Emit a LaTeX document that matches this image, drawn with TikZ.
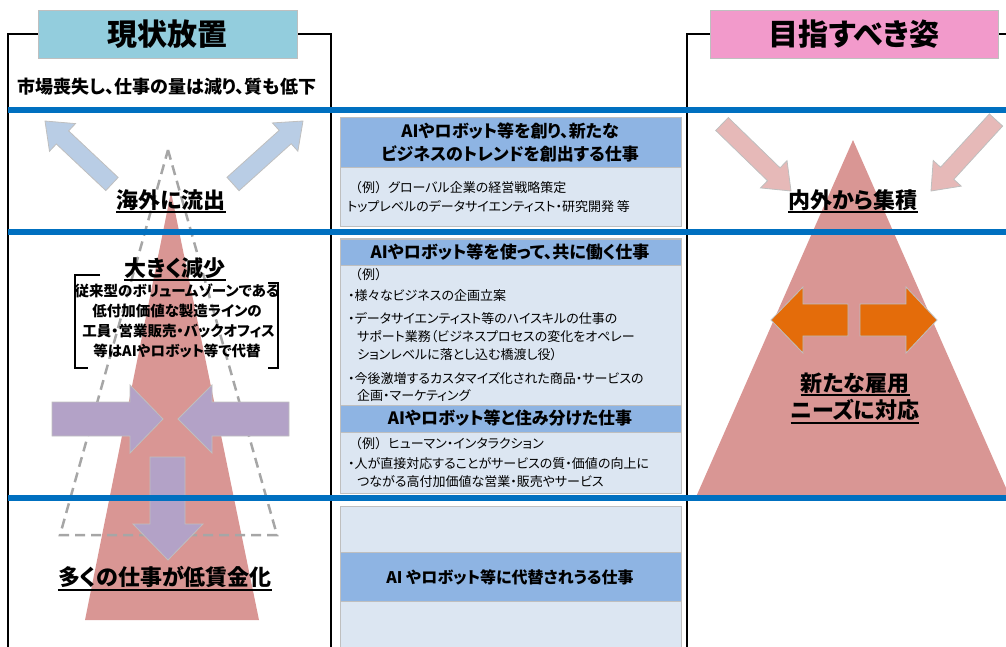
\documentclass[tikz,border=0pt]{standalone}
\usepackage{fontspec}
\setmainfont{Noto Sans CJK JP}[RawFeature=+palt]
\newfontfamily\jpfull{Noto Sans CJK JP}
\usetikzlibrary{calc}
\definecolor{lineblue}{HTML}{0070C0}
\definecolor{titleblue}{HTML}{93CDDD}
\definecolor{titlepink}{HTML}{F29ACB}
\definecolor{hdrblue}{HTML}{8EB4E3}
\definecolor{bodyblue}{HTML}{DCE6F2}
\definecolor{tri}{HTML}{D99694}
\definecolor{purp}{HTML}{B3A2C7}
\definecolor{lblue}{HTML}{B9CDE5}
\definecolor{lpink}{HTML}{E6B9B8}
\definecolor{orng}{HTML}{E46C0A}
\definecolor{bord}{HTML}{BFBFBF}
\definecolor{dashgray}{HTML}{A6A6A6}

\newcommand\fatarrow[6]{%
  \coordinate (fa-h) at ($(#3)!#6!(#2)$);
  \path[#1] ($(#2)!#4!90:(#3)$) -- ($(fa-h)!#4!90:(#3)$) -- ($(fa-h)!#5!90:(#3)$) -- (#3) -- ($(fa-h)!#5!-90:(#3)$) -- ($(fa-h)!#4!-90:(#3)$) -- ($(#2)!#4!-90:(#3)$) -- cycle;}

\newcommand\ulabel[3]{%
  \node[big] (#1) at #2 {#3};
  \draw[line width=2pt] ($(#1.base west)+(0,4)$) -- ($(#1.base east)+(0,4)$);}

\newcommand\rei{{\jpfull （例）}}

\tikzset{
  frame/.style={line width=2.5pt, black},
  bluerule/.style={line width=5.5pt, lineblue},
  titlebox/.style={draw=bord, line width=1pt, inner sep=0pt,
    minimum height=48pt, font=\bfseries\fontsize{30}{34}\selectfont},
  hdr/.style={inner sep=0pt, align=center, font=\bfseries\fontsize{17}{23}\selectfont},
  body/.style={inner sep=0pt, anchor=base west, font=\fontsize{13}{18}\selectfont},
  big/.style={inner sep=0pt, font=\bfseries\fontsize{22}{26}\selectfont},
  boxline/.style={draw=bord, line width=1pt},
  shapeline/.style={draw=bord, line width=0.8pt},
}

\begin{document}
\begin{tikzpicture}[x=1pt, y=-1pt]
\useasboundingbox (0,0) rectangle (1006,646);

% ---------- left column graphics ----------
\fill[tri] (171,192) -- (259,620) -- (85,620) -- cycle;
\draw[dashgray, line width=2.5pt, dash pattern=on 10pt off 6pt] (168,150) -- (277,535) -- (60,535) -- cycle;

\path[fill=purp, shapeline] (52,402) -- (130,402) -- (130,385) -- (163,419) -- (130,453) -- (130,436) -- (52,436) -- cycle;
\path[fill=purp, shapeline] (289,402) -- (212,402) -- (212,385) -- (178,419) -- (212,453) -- (212,436) -- (289,436) -- cycle;
\path[fill=purp, shapeline] (150,457) -- (185,457) -- (185,524) -- (203,524) -- (168,560) -- (133,524) -- (150,524) -- cycle;

\coordinate (bl1s) at (112,184);
\coordinate (bl1e) at (45,121);
\coordinate (bl2s) at (233,184);
\coordinate (bl2e) at (303,121);
\fatarrow{fill=lblue, shapeline}{bl1s}{bl1e}{9pt}{19pt}{24pt}
\fatarrow{fill=lblue, shapeline}{bl2s}{bl2e}{9pt}{19pt}{24pt}

% ---------- right column graphics ----------
\fill[tri] (853,140) -- (1010,497) -- (696,497) -- cycle;
\coordinate (pk1s) at (722,124);
\coordinate (pk1e) at (791,191);
\coordinate (pk2s) at (996,120);
\coordinate (pk2e) at (931,191);
\fatarrow{fill=lpink, shapeline}{pk1s}{pk1e}{9pt}{19pt}{24pt}
\fatarrow{fill=lpink, shapeline}{pk2s}{pk2e}{9pt}{19pt}{24pt}

\path[fill=orng, shapeline] (848,304) -- (803,304) -- (803,287) -- (771,320) -- (803,353) -- (803,336) -- (848,336) -- cycle;
\path[fill=orng, shapeline] (860,304) -- (906,304) -- (906,287) -- (937,320) -- (906,353) -- (906,336) -- (860,336) -- cycle;

% ---------- middle column boxes ----------
\path[fill=bodyblue, boxline] (340,117) rectangle (681,226);
\path[fill=hdrblue, boxline] (340,117) rectangle (681,167);
\path[fill=bodyblue, boxline] (340,238) rectangle (681,493);
\path[fill=hdrblue, boxline] (340,239) rectangle (681,265);
\path[fill=hdrblue, boxline] (340,405) rectangle (681,432);
\path[fill=bodyblue, boxline] (340,506) rectangle (681,660);
\path[fill=hdrblue, boxline] (340,552) rectangle (681,601);

% ---------- frames and titles ----------
\draw[frame] (38,34) -- (8,34) -- (8,660);
\draw[frame] (297,34) -- (331,34) -- (331,660);
\draw[frame] (710,34) -- (687,34) -- (687,660);
\draw[frame] (998,34) -- (1010,34);
\node[titlebox, fill=titleblue, minimum width=259pt] (t1) at (167.5,34) {現状放置};
\node[titlebox, fill=titlepink, minimum width=288pt] (t2) at (854,34) {目指すべき姿};

\node[inner sep=0pt, font=\bfseries\fontsize{18}{20}\selectfont] (lead) at (167,87) {市場喪失し、仕事の量は減り、質も低下};

% ---------- blue rules ----------
\draw[bluerule] (8,110) -- (1010,110);
\draw[bluerule] (8,232) -- (1010,232);
\draw[bluerule] (8,498) -- (1010,498);

% ---------- left texts ----------
\ulabel{out}{(171,200)}{海外に流出}
\ulabel{dec}{(175,268)}{大きく減少}
\node[inner sep=0pt, align=center, font=\bfseries\fontsize{14.5}{20}\selectfont] (repl) at (177,321)
  {従来型のボリュームゾーンである\\低付加価値な製造ラインの\\\ 工員・営業販売・バックオフィス\\等はAIやロボット等で代替};
\draw[line width=1.6pt] (100,275) -- (75,275) -- (75,368) -- (88,368);
\draw[line width=1.6pt] (268,283) -- (278,283) -- (278,368) -- (268,368);
\ulabel{low}{(165,577)}{多くの仕事が低賃金化}

% ---------- right texts ----------
\ulabel{gath}{(853,200)}{内外から集積}
\ulabel{new1}{(855,383)}{新たな雇用}
\ulabel{new2}{(855,410)}{ニーズに対応}

% ---------- middle texts ----------
\node[hdr] (h1) at (510,142) {AIやロボット等を創り、新たな\\ビジネスのトレンドを創出する仕事};
\node[body] (b1a) at (349,192) {\rei グローバル企業の経営戦略策定};
\node[body] (b1b) at (347,211) {トップレベルのデータサイエンティスト・研究開発 等};

\node[hdr] (h2) at (510,252) {AIやロボット等を使って、共に働く仕事};
\node[body] (b2a) at (349,279) {\rei};
\node[body] (b2b) at (348,300) {・様々なビジネスの企画立案};
\node[body] (b2c) at (348,323) {・データサイエンティスト等のハイスキルの仕事の};
\node[body] (b2d) at (357,341) {サポート業務（ビジネスプロセスの変化をオペレー};
\node[body] (b2e) at (357,359) {ションレベルに落とし込む橋渡し役）};
\node[body] (b2f) at (348,383) {・今後激増するカスタマイズ化された商品・サービスの};
\node[body] (b2g) at (357,400) {企画・マーケティング};

\node[hdr] (h3) at (510,418) {AIやロボット等と住み分けた仕事};
\node[body] (b3a) at (349,448) {\rei ヒューマン・インタラクション};
\node[body] (b3b) at (348,468) {・人が直接対応することがサービスの質・価値の向上に};
\node[body] (b3c) at (357,486) {つながる高付加価値な営業・販売やサービス};

\node[hdr, font=\bfseries\fontsize{16}{20}\selectfont] (h4) at (510,577) {AI やロボット等に代替されうる仕事};
\end{tikzpicture}
\end{document}
